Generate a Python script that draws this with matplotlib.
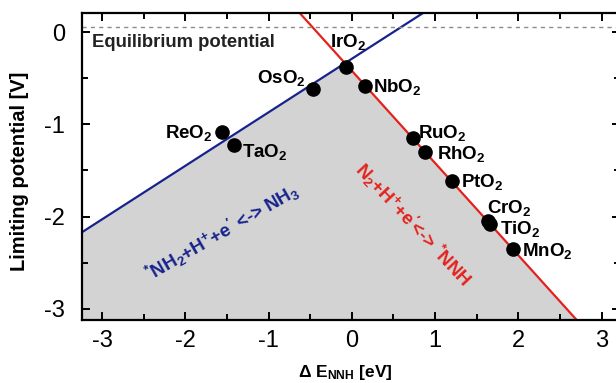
import numpy as np
import matplotlib
matplotlib.use("Agg")
import matplotlib.pyplot as plt

plt.rcParams['font.family'] = ['Liberation Sans', 'DejaVu Sans']
plt.rcParams['mathtext.fontset'] = 'custom'
plt.rcParams['mathtext.rm'] = 'Liberation Sans:bold'
plt.rcParams['mathtext.it'] = 'Liberation Sans:bold'
plt.rcParams['mathtext.bf'] = 'Liberation Sans:bold'
plt.rcParams['mathtext.default'] = 'rm'

# ---- data ----
materials = ["IrO$_2$", "OsO$_2$", "NbO$_2$", "ReO$_2$", "TaO$_2$", "RuO$_2$",
             "RhO$_2$", "PtO$_2$", "CrO$_2$", "TiO$_2$", "MnO$_2$"]
dE_NNH = [-0.07, -0.47, 0.16, -1.56, -1.42, 0.73, 0.88, 1.20, 1.63, 1.66, 1.93]
U_L = [-0.38, -0.62, -0.58, -1.08, -1.22, -1.15, -1.30, -1.61, -2.05, -2.08, -2.35]

# scaling lines: U = slope * dE + intercept
nh3_slope, nh3_intercept = 0.58, -0.29     # *NH2 + H+ + e- <-> NH3
nnh_slope, nnh_intercept = -1.0, -0.42     # N2 + H+ + e- <-> *NNH
equilibrium_U = 0.05

# label placement (x, y, ha)
label_pos = {
    "IrO$_2$": (-0.05, -0.16, 'center'),
    "OsO$_2$": (-0.56, -0.55, 'right'),
    "NbO$_2$": (0.26, -0.65, 'left'),
    "ReO$_2$": (-1.67, -1.15, 'right'),
    "TaO$_2$": (-1.32, -1.35, 'left'),
    "RuO$_2$": (0.80, -1.15, 'left'),
    "RhO$_2$": (1.02, -1.38, 'left'),
    "PtO$_2$": (1.31, -1.68, 'left'),
    "CrO$_2$": (1.62, -1.96, 'left'),
    "TiO$_2$": (1.78, -2.19, 'left'),
    "MnO$_2$": (2.04, -2.43, 'left'),
}

xlim = (-3.24, 3.22)
ylim = (-3.12, 0.206)

W, H = 616, 383
fig = plt.figure(figsize=(W / 100, H / 100), dpi=100)
ax = fig.add_axes([82 / W, 1 - 320 / H, (620 - 82) / W, (320 - 13) / H])
ax.set_xlim(*xlim)
ax.set_ylim(*ylim)

blue = "#16238c"
red = "#e3221d"

xs = np.linspace(xlim[0], xlim[1], 600)
y_nh3 = nh3_slope * xs + nh3_intercept
y_nnh = nnh_slope * xs + nnh_intercept
ax.fill_between(xs, np.minimum(y_nh3, y_nnh), ylim[0], color="#d3d3d3", lw=0, zorder=1)
ax.plot(xs, y_nh3, color=blue, lw=1.6, zorder=2)
ax.plot(xs, y_nnh, color=red, lw=1.6, zorder=2)
ax.axhline(equilibrium_U, color="#8c8c8c", lw=1.0, ls=(0, (3, 3)), zorder=2)

ax.plot(dE_NNH, U_L, 'o', color='black', ms=9.5, zorder=4)
for m in materials:
    x, y, ha = label_pos[m]
    ax.text(x, y, m, ha=ha, va='baseline', fontsize=13.5, fontweight='bold', zorder=5)

ax.text(-3.12, -0.16, "Equilibrium potential", ha='left', va='baseline',
        fontsize=13.3, fontweight='bold', color='#222222')

ax.text(-1.56, -2.17, "$^{*}$NH$_2$+H$^{+}$+e$^{\\prime}$ <-> NH$_3$", color=blue,
        fontsize=13.5, fontweight='bold', rotation=30, rotation_mode='anchor',
        ha='center', va='center', zorder=3)
ax.text(0.73, -2.09, "N$_2$+H$^{+}$+e$^{\\prime}$<-> $^{*}$NNH", color=red,
        fontsize=13.5, fontweight='bold', rotation=-47, rotation_mode='anchor',
        ha='center', va='center', zorder=3)

ax.set_xticks([-3, -2, -1, 0, 1, 2, 3])
ax.set_yticks([-3, -2, -1, 0])
ax.set_xticks(np.arange(-3, 3.01, 0.5), minor=True)
ax.set_yticks(np.arange(-3, 0.01, 0.5), minor=True)
ax.set_xticklabels(["-3", "-2", "-1", "0", "1", "2", "3"])
ax.set_yticklabels(["-3", "-2", "-1", "0"])
ax.tick_params(which='both', direction='in', top=True, right=True, width=1.4, color='black')
ax.tick_params(which='major', length=6, labelsize=17)
ax.tick_params(which='minor', length=4)
ax.tick_params(axis='y', pad=12)
ax.tick_params(axis='x', pad=7)
for s in ax.spines.values():
    s.set_linewidth(1.6)

fig.text(20 / W, 1 - 171 / H, "Limiting potential [V]", rotation=90, ha='center',
         va='center', fontsize=14.5, fontweight='bold')
fig.text(345 / W, 1 - 373 / H, "$\\Delta$ E$_{NNH}$ [eV]", ha='center', va='center',
         fontsize=12.5, fontweight='bold')

fig.savefig("out.png", dpi=100)
